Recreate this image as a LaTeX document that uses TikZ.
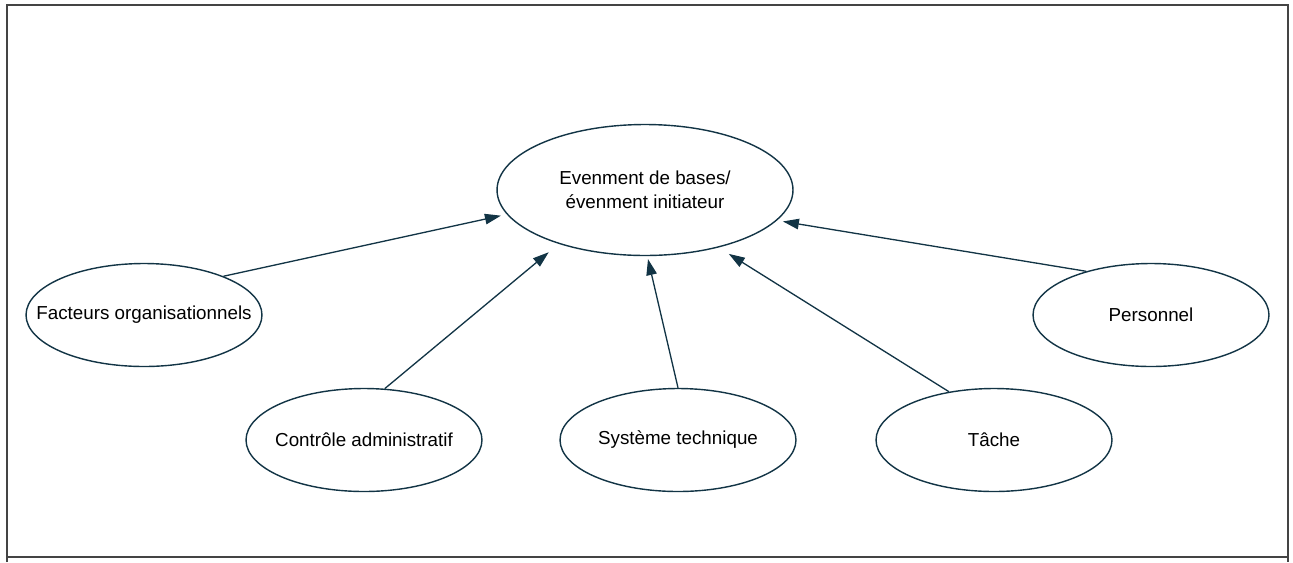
\documentclass[tikz,border=0pt]{standalone}
\usepackage{fontspec}
\setmainfont{Liberation Sans}
\usetikzlibrary{arrows.meta,shapes.geometric}
\definecolor{bord}{HTML}{123445}
\definecolor{cadre}{HTML}{444444}
\begin{document}
\begin{tikzpicture}[x=0.02cm,y=-0.02cm,>={Triangle[length=3.2mm,width=2.1mm]},
  font=\fontsize{10.7}{13.6}\selectfont,
  bulle/.style={ellipse,draw=bord,line width=0.8pt,minimum width=4.72cm,minimum height=2.06cm,inner sep=0pt,align=center},
  fleche/.style={->,draw=bord,line width=0.75pt}]
\useasboundingbox (0,0) rectangle (1293,562);
\draw[cadre,line width=1.1pt] (7,562) -- (7,5) -- (1288,5) -- (1288,562);
\draw[cadre,line width=1.1pt] (7,557) -- (1288,557);
\node[bulle,minimum width=5.92cm,minimum height=2.62cm] (ev) at (645,190) {Evenment de bases/\\évenment initiateur};
\node[bulle] (fo) at (144,315) {\makebox[0pt]{Facteurs organisationnels}};
\node[bulle] (pe) at (1151,315) {Personnel};
\node[bulle] (ca) at (364,440) {\makebox[0pt]{Contrôle administratif}};
\node[bulle] (st) at (678,440) {Système technique};
\node[bulle] (ta) at (994,440) {Tâche};
\draw[fleche,shorten >=0.12cm] (fo.26) -- (ev.190);
\draw[fleche,shorten >=0.26cm] (ca.68) -- (ev.212);
\draw[fleche,shorten >=0.06cm] (st.90) -- (ev.272);
\draw[fleche,shorten >=0.24cm] (ta.133) -- (ev.322);
\draw[fleche,shorten >=0.12cm] (pe.146) -- (ev.347);
\end{tikzpicture}
\end{document}
